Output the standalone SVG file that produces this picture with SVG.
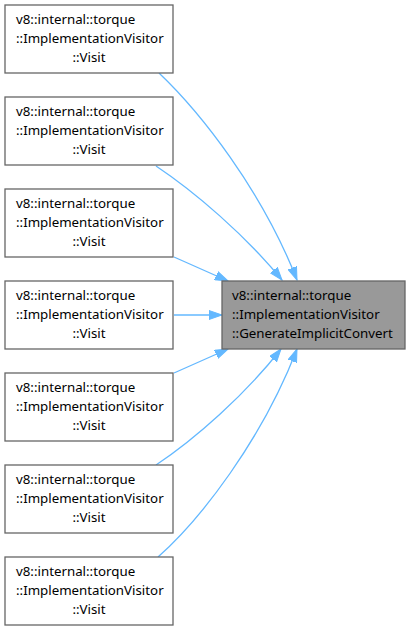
<svg xmlns="http://www.w3.org/2000/svg" width="410" height="630" viewBox="0 0 410 630">
<style>
.box rect{fill:#fff;stroke:#666;stroke-width:1.3}
.target rect{fill:#999;stroke:#666;stroke-width:1.3}
text{font-family:"Noto Sans","DejaVu Sans",sans-serif;font-size:13.3px;fill:#000}
.box text.c{text-anchor:middle}
.edges path{fill:none;stroke:#63b8ff;stroke-width:1.3}
</style>
<defs>
<marker id="ah" markerUnits="userSpaceOnUse" markerWidth="14" markerHeight="10" refX="13" refY="5" orient="auto">
<path d="M0,0.5 L13,5 L0,9.5 z" fill="#63b8ff" stroke="#63b8ff" stroke-width="1"/>
</marker>
</defs>
<g class="edges">
<path d="M159,73 C200,112 262,190 297,280" marker-end="url(#ah)"/>
<path d="M156,166 C195,192 245,235 282,280" marker-end="url(#ah)"/>
<path d="M174,257 L228,281" marker-end="url(#ah)"/>
<path d="M174,315 L222,315" marker-end="url(#ah)"/>
<path d="M174,373 L228,349" marker-end="url(#ah)"/>
<path d="M156,465 C195,439 245,395 281,349" marker-end="url(#ah)"/>
<path d="M158,557 C200,520 262,440 297,349" marker-end="url(#ah)"/>
</g>
<g id="target" class="target">
<rect x="222" y="281" width="183" height="68"/>
<text x="232" y="299.5">v8::internal::torque</text>
<text x="232" y="318.5">::ImplementationVisitor</text>
<text x="232" y="337.5">::GenerateImplicitConvert</text>
</g>
<g id="n1" class="box"><rect x="5" y="5" width="168" height="68"/>
<text x="16" y="23.5">v8::internal::torque</text><text x="16" y="42.5">::ImplementationVisitor</text><text class="c" x="89" y="61.5">::Visit</text></g>
<g id="n2" class="box"><rect x="5" y="97" width="168" height="68"/>
<text x="16" y="115.5">v8::internal::torque</text><text x="16" y="134.5">::ImplementationVisitor</text><text class="c" x="89" y="153.5">::Visit</text></g>
<g id="n3" class="box"><rect x="5" y="189" width="168" height="68"/>
<text x="16" y="207.5">v8::internal::torque</text><text x="16" y="226.5">::ImplementationVisitor</text><text class="c" x="89" y="245.5">::Visit</text></g>
<g id="n4" class="box"><rect x="5" y="281" width="168" height="68"/>
<text x="16" y="299.5">v8::internal::torque</text><text x="16" y="318.5">::ImplementationVisitor</text><text class="c" x="89" y="337.5">::Visit</text></g>
<g id="n5" class="box"><rect x="5" y="373" width="168" height="68"/>
<text x="16" y="391.5">v8::internal::torque</text><text x="16" y="410.5">::ImplementationVisitor</text><text class="c" x="89" y="429.5">::Visit</text></g>
<g id="n6" class="box"><rect x="5" y="465" width="168" height="68"/>
<text x="16" y="483.5">v8::internal::torque</text><text x="16" y="502.5">::ImplementationVisitor</text><text class="c" x="89" y="521.5">::Visit</text></g>
<g id="n7" class="box"><rect x="5" y="557" width="168" height="68"/>
<text x="16" y="575.5">v8::internal::torque</text><text x="16" y="594.5">::ImplementationVisitor</text><text class="c" x="89" y="613.5">::Visit</text></g>
</svg>
